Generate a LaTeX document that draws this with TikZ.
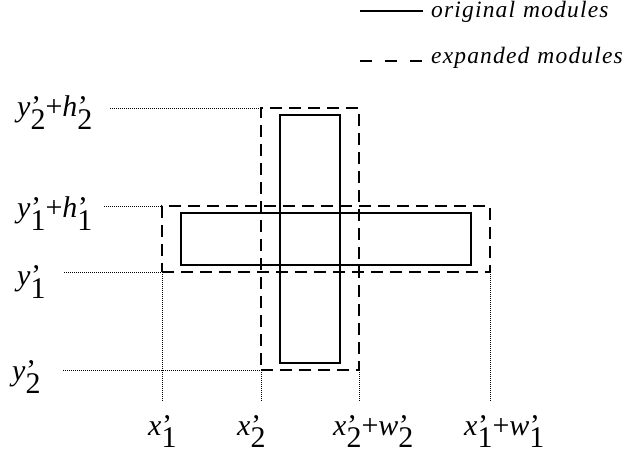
\documentclass[tikz,border=0pt]{standalone}
\usepackage{fontspec}
\setmainfont{Liberation Serif}
\newfontfamily\legfont[LetterSpace=5]{Liberation Serif}
\newcommand\pvar[2]{\textit{#1}\rlap{\kern0.5pt’}\raisebox{-13pt}{#2}}
\tikzset{
  origbox/.style={draw=black, line width=2pt, inner sep=0pt, outer sep=0pt},
  expbox/.style={draw=black, line width=2pt, dash pattern=on 12pt off 7pt, inner sep=0pt, outer sep=0pt},
  guide/.style={black, line width=0.8pt, dash pattern=on 1pt off 1pt},
  lab/.style={inner sep=0pt, anchor=base west, font=\fontsize{30}{30}\selectfont},
  legtext/.style={inner sep=0pt, anchor=base west, font=\legfont\itshape\fontsize{23.5}{23.5}\selectfont},
}
\begin{document}
\begin{tikzpicture}[x=1pt,y=-1pt]
\useasboundingbox (0,0) rectangle (632,454);
% modules
\node[origbox, minimum width=60pt, minimum height=248pt] (o2) at (310,239) {};
\node[origbox, minimum width=290pt, minimum height=52pt] (o1) at (326,239) {};
\node[expbox, minimum width=98pt, minimum height=262pt] (e2) at (310,239) {};
\node[expbox, minimum width=328pt, minimum height=66pt] (e1) at (326,239) {};
% guide line ends
\coordinate (g1) at (110,108);
\coordinate (g2) at (104,206);
\coordinate (g3) at (64,272);
\coordinate (g4) at (63,370);
\coordinate (v1) at (162,402);
\coordinate (v2) at (261,402);
\coordinate (v3) at (359,402);
\coordinate (v4) at (490,402);
\draw[guide] (g1) -- (e2.north west);
\draw[guide] (g2) -- (e1.north west);
\draw[guide] (g3) -- (e1.south west);
\draw[guide] (g4) -- (e2.south west);
\draw[guide] (e1.south west) -- (v1);
\draw[guide] (e2.south west) -- (v2);
\draw[guide] (e2.south east) -- (v3);
\draw[guide] (e1.south east) -- (v4);
% labels
\node[lab] (ly2h) at (17,117) {\pvar{y}{2}+\pvar{h}{2}};
\node[lab] (ly1h) at (17,218) {\pvar{y}{1}+\pvar{h}{1}};
\node[lab] (ly1) at (17,286) {\pvar{y}{1}};
\node[lab] (ly2) at (12,381) {\pvar{y}{2}};
\node[lab] (lx1) at (148,435) {\pvar{x}{1}};
\node[lab] (lx2) at (237,435) {\pvar{x}{2}};
\node[lab] (lx2w) at (333,435) {\pvar{x}{2}+\pvar{w}{2}};
\node[lab] (lx1w) at (464,435) {\pvar{x}{1}+\pvar{w}{1}};
% legend
\coordinate (la) at (360,11);
\coordinate (lb) at (423,11);
\coordinate (lc) at (360,61);
\coordinate (ld) at (423,61);
\draw[line width=1.6pt] (la) -- (lb);
\draw[line width=2pt, dash pattern=on 12pt off 13pt] (lc) -- (ld);
\node[legtext] (lorig) at (431,18) {original\hspace{8pt}modules};
\node[legtext] (lexp) at (431,64) {expanded\hspace{8pt}modules};
\end{tikzpicture}
\end{document}
